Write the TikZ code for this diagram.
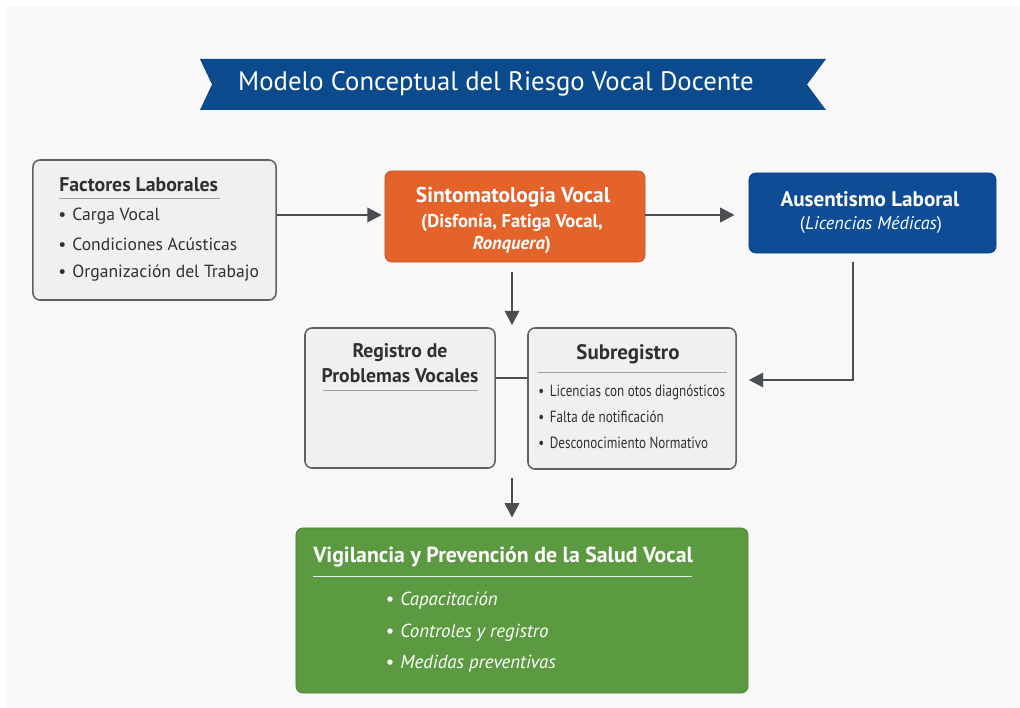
\documentclass[tikz,border=0pt]{standalone}
\usepackage{fontspec}
\setmainfont{PT Sans}
\newfontfamily\condfont[FakeStretch=0.81]{PT Sans}
\usetikzlibrary{arrows.meta,calc}

\definecolor{panelgray}{HTML}{F8F8F8}
\definecolor{boxgray}{HTML}{F0F0F0}
\definecolor{edgegray}{HTML}{5E6064}
\definecolor{arrowgray}{HTML}{4A4D52}
\definecolor{textgray}{HTML}{2E3033}
\definecolor{bannerblue}{HTML}{0C4A8E}
\definecolor{ausblue}{HTML}{0E4C96}
\definecolor{sintorange}{HTML}{E4632B}
\definecolor{vigigreen}{HTML}{5C9A41}

\newcommand{\bul}{\textbullet\hspace{0.35em}}

\tikzset{
  graybox/.style={draw=edgegray, line width=1.1pt, fill=boxgray, rounded corners=5pt},
  colbox/.style={fill=#1, draw=#1!85!black, line width=0.6pt, rounded corners=5pt},
  arr/.style={draw=arrowgray, line width=1.6pt, -{Triangle[length=0.36cm, width=0.36cm]}},
  link/.style={draw=arrowgray, line width=1.6pt},
  head/.style={font=\bfseries\fontsize{14.1}{16}\selectfont, text=textgray, inner sep=0pt},
  item/.style={font=\fontsize{12.5}{14}\selectfont, text=textgray, inner sep=0pt},
  whitetxt/.style={text=white, inner sep=0pt, align=center}
}

\begin{document}
\begin{tikzpicture}[x=0.025cm, y=-0.025cm]
\useasboundingbox (0,0) rectangle (1020,708);
% background
\fill[white] (0,0) rectangle (1020,708);
\fill[panelgray] (6,7) rectangle (1020,708);

% title banner
\fill[bannerblue] (200,59) -- (826,59) -- (807,84.5) -- (826,110) -- (200,110) -- (212,84.5) -- cycle;
\node[whitetxt, font=\fontsize{19}{22}\selectfont] (title) at (496,84) {Modelo Conceptual del Riesgo Vocal Docente};

% boxes
\node[graybox, minimum width=6.075cm, minimum height=3.5cm] (fact) at (154.5,230) {};
\node[colbox=sintorange, minimum width=6.5cm, minimum height=2.275cm] (sint) at (515,216.5) {};
\node[colbox=ausblue, minimum width=6.175cm, minimum height=2cm] (ause) at (872.5,213) {};
\node[graybox, minimum width=4.75cm, minimum height=3.5cm] (regi) at (400,398) {};
\node[graybox, minimum width=5.2cm, minimum height=3.525cm] (subr) at (632,398.5) {};
\node[colbox=vigigreen, minimum width=11.3cm, minimum height=4.125cm] (vigi) at (522,610.5) {};

% Factores Laborales
\node[head, anchor=west] (facthead) at (59,185) {Factores Laborales};
\draw[edgegray!60, line width=0.6pt] (59,198) -- (220,198);
\node[item, anchor=west] (fact1) at (58,216) {\bul Carga Vocal};
\node[item, anchor=west] (fact2) at (58,244) {\bul Condiciones Acústicas};
\node[item, anchor=west] (fact3) at (58,273) {\bul Organización del Trabajo};

% Sintomatologia
\node[whitetxt, font=\bfseries\fontsize{15.2}{18}\selectfont] (sinthead) at (513,197) {Sintomatologia Vocal};
\node[whitetxt, font=\bfseries\fontsize{13.2}{15}\selectfont] (sint1) at (512,223) {(Disfonía, Fatiga Vocal,};
\node[whitetxt, font=\bfseries\fontsize{13.2}{15}\selectfont] (sint2) at (512,245) {\textit{Ronquera})};

% Ausentismo
\node[whitetxt, font=\bfseries\fontsize{15}{18}\selectfont] (ausehead) at (870,199) {Ausentismo Laboral};
\node[whitetxt, font=\fontsize{13}{15}\selectfont] (ause1) at (871,225) {(\textit{Licencias Médicas})};

% Registro
\node[head, align=center, font=\bfseries\fontsize{14}{18}\selectfont] (regihead) at (400,363) {Registro de\\Problemas Vocales};
\draw[edgegray!60, line width=0.6pt] (323,390) -- (478,390);

% Subregistro
\node[head, font=\bfseries\fontsize{14.9}{17}\selectfont] (subrhead) at (628,354) {Subregistro};
\draw[edgegray!60, line width=0.6pt] (538,372) -- (727,372);
\node[item, anchor=west, font=\condfont\fontsize{11.5}{13}\selectfont] (subr1) at (538,392) {\bul Licencias con otos diagnósticos};
\node[item, anchor=west, font=\condfont\fontsize{11.5}{13}\selectfont] (subr2) at (538,417) {\bul Falta de notificación};
\node[item, anchor=west, font=\condfont\fontsize{11.5}{13}\selectfont] (subr3) at (538,443) {\bul Desconocimiento Normativo};

% Vigilancia
\node[whitetxt, anchor=west, font=\bfseries\fontsize{15.5}{18}\selectfont] (vigihead) at (313,557) {Vigilancia y Prevención de la Salud Vocal};
\draw[white!85!vigigreen, line width=0.7pt] (313,576) -- (692,576);
\node[whitetxt, anchor=west, font=\itshape\fontsize{13.4}{15}\selectfont] (vigi1) at (385,601) {\bul Capacitación};
\node[whitetxt, anchor=west, font=\itshape\fontsize{13.4}{15}\selectfont] (vigi2) at (385,633) {\bul Controles y registro};
\node[whitetxt, anchor=west, font=\itshape\fontsize{13.4}{15}\selectfont] (vigi3) at (385,664) {\bul Medidas preventivas};

% connectors
\coordinate (gaptop) at (512,328);
\coordinate (gapbot) at (512,478);
\coordinate (bend) at (853,380);
\coordinate (join) at (512,378);

\draw[arr, shorten >=2pt] (fact.east |- 0,215) -- (sint.west |- 0,215);
\draw[arr, shorten >=0.35cm] (sint.east |- 0,215) -- (ause.west |- 0,215);
\draw[arr, shorten <=0.25cm, shorten >=2pt] (gaptop |- sint.south) -- (gaptop);
\draw[link] (regi.east |- join) -- (subr.west |- join);
\draw[arr, shorten <=0.22cm, shorten >=0.3cm] (bend |- ause.south) -- (bend) -- (subr.east |- bend);
\draw[arr, shorten >=0.25cm] (gapbot) -- (gapbot |- vigi.north);
\end{tikzpicture}
\end{document}
